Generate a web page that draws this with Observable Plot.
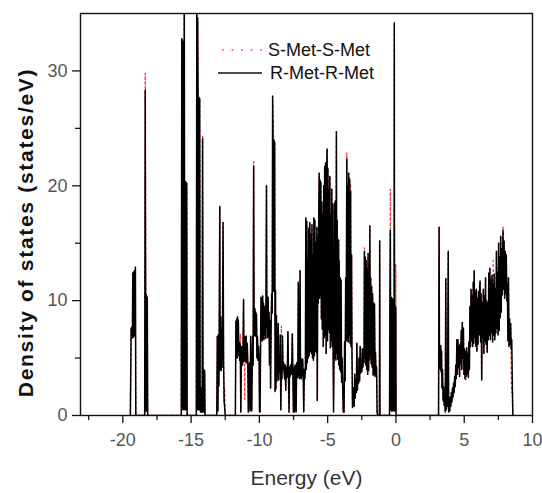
<!DOCTYPE html>
<html><head><meta charset="utf-8">
<script src="https://cdn.jsdelivr.net/npm/d3@7"></script>
<script src="https://cdn.jsdelivr.net/npm/@observablehq/plot@0.6"></script>
<style>
body{margin:0;background:#fff;}
#wrap{position:relative;width:542px;height:493px;font-family:"Liberation Sans",Arial,sans-serif;}
#legend{position:absolute;left:0;top:0;pointer-events:none;}
</style></head><body><div id="wrap"></div>
<script>
const xMajorTicks=[-20,-15,-10,-5,0,5,10];
const xMinorTicks=[-22.5,-17.5,-12.5,-7.5,-2.5,2.5,7.5];
const yMajorTicks=[0,10,20,30];
const yMinorTicks=[5,15,25];
const seriesNames=["S-Met-S-Met","R-Met-R-Met"];
const xTitle="Energy (eV)";
const yTitle="Density of states (states/eV)";

// R-Met-R-Met (black): [energy eV, DOS]
const rMet=[
[-19.45,0],[-19.39,7.6],[-19.36,6.7],[-19.33,7.7],[-19.30,6.8],[-19.27,12.4],[-19.24,6.8],[-19.21,12.5],[-19.18,6.9],[-19.15,12.6],[-19.12,7.0],[-19.08,12.9],[-19.05,0],
[-18.40,0],[-18.36,28.3],[-18.33,10.6],[-18.30,0.4],[-18.27,10.5],[-18.24,0.4],[-18.21,10.3],[-18.18,0],
[-15.72,0],[-15.68,32.8],[-15.65,0.5],[-15.62,32.6],[-15.59,0.5],[-15.56,32.4],[-15.53,0.6],[-15.50,38],[-15.47,0.5],[-15.44,20.4],[-15.41,0.5],[-15.38,20.3],[-15.35,0.5],[-15.32,20.2],[-15.29,0],
[-14.62,0],[-14.58,38],[-14.55,0.5],[-14.52,34.6],[-14.49,27.8],[-14.46,0.5],[-14.43,27.7],[-14.40,0.5],[-14.37,27.6],[-14.34,2.4],[-14.31,0.3],[-14.28,2.4],[-14.25,0.3],[-14.22,2.3],[-14.19,0.3],[-14.16,24.1],[-14.13,4.0],[-14.10,0.3],[-14.07,4.0],[-14.04,0.3],[-14.01,3.9],[-13.98,0],
[-13.12,0],[-13.08,6.9],[-13.04,0.4],[-13.00,7.0],[-12.96,2.6],[-12.90,18.2],[-12.88,7.4],[-12.86,4.0],[-12.83,8.6],[-12.80,3.9],[-12.77,7.5],[-12.74,4.2],[-12.70,8.0],[-12.66,16.8],[-12.62,4.5],[-12.58,1.2],[-12.54,0.7],[-12.50,0],
[-11.76,0],[-11.72,8.2],[-11.69,5.4],[-11.66,8.4],[-11.63,5.0],[-11.60,8.6],[-11.57,5.6],[-11.54,8.3],[-11.51,5.2],[-11.48,6.4],[-11.44,4.8],[-11.40,6.2],[-11.36,0.3],[-11.32,4.6],[-11.28,6.0],[-11.24,4.4],[-11.20,5.6],[-11.16,10.1],[-11.13,4.7],[-11.10,6.9],[-11.07,4.8],[-11.04,6.8],[-11.01,4.7],[-10.97,6.9],[-10.93,4.6],[-10.89,6.3],[-10.85,4.6],[-10.81,0.3],[-10.76,4.2],[-10.72,4.6],[-10.68,0.4],[-10.64,6.9],[-10.60,4.3],[-10.56,0.4],[-10.52,4.6],[-10.49,6.9],[-10.46,4.4],[-10.42,21.7],[-10.39,9.6],[-10.36,7.0],[-10.33,9.3],[-10.30,6.9],[-10.27,9.0],[-10.24,7.2],[-10.21,8.8],[-10.18,5.0],[-10.14,6.9],[-10.10,4.8],[-10.06,6.0],[-10.02,4.8],[-9.99,0.3],
[-9.95,0.3],[-9.91,6.5],[-9.88,10.3],[-9.85,6.7],[-9.82,10.1],[-9.79,6.5],[-9.76,10.4],[-9.73,6.8],[-9.70,9.8],[-9.67,6.6],[-9.64,9.5],[-9.61,7.0],[-9.57,9.3],[-9.53,6.7],[-9.48,20.0],[-9.45,7.6],[-9.42,9.6],[-9.39,6.8],[-9.36,10.3],[-9.33,7.4],[-9.30,9.0],[-9.26,4.4],[-9.22,8.3],[-9.18,2.4],[-9.14,7.8],[-9.10,10.6],[-9.06,8.9],[-9.03,27.8],[-9.00,24.2],[-8.97,10.8],[-8.94,24.0],[-8.91,11.1],[-8.88,23.8],[-8.85,2.1],
[-8.82,10.9],[-8.79,2.3],[-8.75,8.7],[-8.72,3.0],[-8.69,5.0],[-8.66,4.0],[-8.62,8.0],[-8.59,3.1],[-8.55,4.6],[-8.51,3.8],[-8.47,7.0],[-8.43,0.5],[-8.39,4.2],[-8.35,3.2],[-8.31,6.9],[-8.27,4.0],[-8.23,4.6],[-8.19,3.8],[-8.15,3.2],[-8.11,4.4],[-8.07,2.2],[-8.03,4.2],[-7.99,3.3],[-7.95,4.0],[-7.91,7.3],[-7.87,3.9],[-7.83,0.3],[-7.79,4.2],[-7.75,3.4],[-7.71,4.4],[-7.67,3.6],[-7.63,4.2],[-7.59,7.1],[-7.55,3.8],[-7.51,0.3],[-7.47,4.2],[-7.43,0.3],[-7.39,4.4],[-7.35,4.0],[-7.31,0.3],[-7.27,4.6],[-7.23,4.2],[-7.19,3.3],[-7.15,11.6],[-7.12,3.5],[-7.09,5.0],[-7.06,3.2],[-7.02,12.6],[-6.99,3.3],[-6.96,5.0],[-6.93,3.2],[-6.90,4.8],[-6.86,3.4],[-6.83,4.9],[-6.79,3.5],[-6.75,0.3],[-6.71,4.0],
[-6.67,3.2],[-6.63,4.2],[-6.60,17.2],[-6.56,4.0],[-6.53,16.9],[-6.49,4.6],[-6.46,13.5],[-6.42,5.0],[-6.39,16.3],[-6.35,5.2],[-6.31,16.8],[-6.27,5.6],[-6.23,15.8],[-6.19,5.4],[-6.15,16.6],[-6.11,5.0],[-6.07,14.0],[-6.04,4.8],[-6.01,17.2],[-5.97,5.2],[-5.94,17.0],[-5.90,5.6],[-5.86,15.0],[-5.83,5.5],[-5.79,16.4],[-5.76,1.3],[-5.72,15.5],[-5.69,9.8],[-5.65,18.0],[-5.62,21.1],[-5.59,10.2],[-5.56,20.5],[-5.53,10.5],[-5.50,20.3],[-5.46,8.4],[-5.43,18.6],[-5.39,7.5],[-5.36,17.5],[-5.32,6.0],[-5.29,20.0],[-5.25,6.8],[-5.22,21.7],[-5.18,7.0],[-5.15,22.0],[-5.11,5.4],[-5.08,21.0],[-5.04,23.2],[-5.01,6.5],[-4.98,21.5],[-4.94,7.5],[-4.91,19.7],[-4.87,7.2],[-4.84,20.8],[-4.80,5.9],[-4.77,17.5],[-4.73,6.5],[-4.70,19.7],[-4.66,6.0],[-4.63,18.4],[-4.60,5.2],[-4.57,0.3],
[-4.53,6.0],[-4.50,18.5],[-4.47,5.0],[-4.43,18.7],[-4.40,4.8],[-4.36,24.7],[-4.33,5.4],[-4.30,17.0],[-4.26,4.9],[-4.23,15.3],[-4.19,4.4],[-4.16,13.5],[-4.12,4.0],[-4.09,12.0],[-4.05,3.8],[-4.02,11.8],[-3.98,2.9],[-3.94,5.0],[-3.90,2.6],[-3.86,0.3],
[-3.80,0.3],[-3.76,6.4],[-3.72,3.0],[-3.68,12.0],[-3.64,6.5],[-3.60,22.3],[-3.57,6.6],[-3.53,20.0],[-3.50,6.4],[-3.46,21.1],[-3.43,7.0],[-3.39,20.6],[-3.36,6.3],[-3.32,19.5],[-3.29,6.0],[-3.25,14.0],[-3.22,5.5],[-3.18,0.7],
[-3.14,1.2],[-3.10,2.4],[-3.06,0.8],[-3.02,3.6],[-2.98,1.5],[-2.94,3.2],[-2.90,2.0],[-2.86,6.3],[-2.82,2.2],[-2.78,3.8],[-2.74,2.8],[-2.70,5.0],[-2.66,3.0],[-2.62,6.0],[-2.58,3.7],[-2.54,4.6],[-2.50,3.8],[-2.46,5.8],[-2.42,4.2],[-2.38,5.5],
[-2.34,4.6],[-2.31,14.3],[-2.28,5.0],[-2.25,13.8],[-2.21,4.4],[-2.18,13.5],[-2.14,4.0],[-2.11,12.8],[-2.07,3.6],[-2.04,14.1],[-2.00,3.9],[-1.97,11.0],[-1.94,4.8],[-1.91,16.5],[-1.88,5.2],[-1.85,12.0],[-1.81,4.5],[-1.78,11.2],[-1.74,4.2],[-1.71,10.6],[-1.67,3.5],[-1.64,9.8],[-1.60,3.6],[-1.57,9.7],[-1.53,3.4],[-1.50,5.5],[-1.46,3.8],[-1.42,4.2],[-1.38,0.3],[-1.34,0],[-1.21,0],[-1.19,15.2],[-1.17,0],
[-0.47,0],[-0.44,10.4],[-0.41,16.1],[-0.38,0.5],[-0.35,10.3],[-0.32,0.4],[-0.29,10.2],[-0.26,0.4],[-0.23,10.1],[-0.20,0.5],[-0.17,10.0],[-0.14,0.4],[-0.12,34.2],[-0.10,0.4],[-0.07,9.6],[-0.05,9.4],[-0.03,0.4],[-0.01,9.4],[0.01,0],
[3.12,0],[3.16,16.4],[3.19,4.2],[3.22,6.0],[3.25,4.0],[3.28,6.1],[3.31,3.8],[3.34,5.6],[3.37,2.4],[3.41,4.0],[3.45,1.3],[3.49,2.5],[3.53,0.9],[3.57,1.6],[3.61,0.3],[3.65,11.9],[3.69,0.5],[3.73,2.0],[3.77,0.8],[3.83,14.3],[3.86,0.3],[3.90,1.4],[3.94,0.4],[3.98,1.6],[4.02,0.8],[4.06,2.0],[4.10,1.2],[4.14,2.4],[4.18,1.6],[4.22,2.8],[4.26,2.0],[4.30,3.4],[4.34,2.5],[4.38,4.4],[4.42,3.2],[4.46,6.6],[4.50,3.6],[4.54,6.6],[4.58,4.2],[4.62,6.0],[4.66,3.4],[4.70,6.2],[4.74,4.5],[4.78,7.4],[4.82,4.0],[4.86,8.1],[4.90,5.0],[4.94,7.6],[4.98,3.6],[5.02,5.8],[5.06,3.2],[5.10,5.6],[5.14,3.4],[5.18,5.9],[5.22,3.6],[5.26,5.4],[5.30,3.3],[5.34,6.4],[5.38,4.0],[5.42,9.5],[5.46,6.0],[5.50,11.0],[5.54,6.5],[5.58,10.4],[5.62,6.0],[5.66,11.6],[5.70,6.3],[5.73,12.6],[5.77,6.8],[5.81,10.8],[5.85,6.0],[5.89,11.0],[5.93,5.6],[5.97,10.2],[6.01,6.2],[6.05,10.8],[6.09,7.0],[6.13,11.2],[6.16,11.7],[6.20,6.4],[6.24,10.6],[6.28,3.1],[6.32,9.8],[6.36,6.8],[6.40,11.0],[6.44,5.4],[6.48,10.4],[6.52,6.5],[6.56,12.0],[6.60,6.2],[6.64,10.0],[6.68,5.5],[6.72,9.8],[6.76,6.6],[6.80,12.4],[6.84,7.0],[6.88,12.8],[6.92,6.6],[6.96,11.8],[7.00,7.2],[7.04,12.2],[7.08,6.4],[7.12,11.5],[7.16,7.0],[7.20,12.3],[7.24,6.6],[7.28,11.0],[7.32,7.2],[7.36,14.3],[7.40,7.6],[7.44,12.5],[7.48,7.0],[7.52,15.0],[7.56,7.4],[7.60,13.8],[7.64,8.5],[7.67,15.6],[7.71,9.0],[7.75,14.5],[7.79,10.5],[7.84,16.1],[7.88,11.0],[7.92,15.2],[7.96,10.2],[8.00,14.3],[8.04,10.6],[8.08,14.0],[8.12,10.0],[8.16,11.5],[8.20,6.5],[8.24,12.0],[8.28,6.0],[8.32,8.4],[8.36,6.2],[8.40,8.0],[8.44,5.8],[8.48,6.6],[8.53,2.1],[8.56,0]
];

// S-Met-S-Met (red dotted): [energy eV, DOS]
const sMet=[
[-19.45,0],[-19.39,7.6],[-19.36,6.7],[-19.33,7.7],[-19.30,6.8],[-19.27,12.4],[-19.24,6.8],[-19.21,12.5],[-19.18,6.9],[-19.15,12.6],[-19.12,7.0],[-19.08,12.9],[-19.05,0],
[-18.40,0],[-18.36,29.8],[-18.33,13.3],[-18.30,0.4],[-18.27,10.5],[-18.24,0.4],[-18.21,10.3],[-18.18,0],
[-15.72,0],[-15.68,32.8],[-15.65,0.5],[-15.62,32.6],[-15.59,0.5],[-15.56,32.4],[-15.53,0.6],[-15.50,38],[-15.47,0.5],[-15.44,20.4],[-15.41,0.5],[-15.38,20.3],[-15.35,0.5],[-15.32,20.2],[-15.29,0],
[-14.62,0],[-14.58,38],[-14.55,0.5],[-14.52,34.6],[-14.49,27.8],[-14.46,0.5],[-14.43,27.7],[-14.40,0.5],[-14.37,27.6],[-14.34,2.4],[-14.31,0.3],[-14.28,2.4],[-14.25,0.3],[-14.22,2.3],[-14.19,0.3],[-14.16,24.4],[-14.13,7.4],[-14.10,1.8],[-14.07,4.0],[-14.04,0.3],[-14.01,3.9],[-13.98,0],
[-13.12,0],[-13.08,6.9],[-13.04,0.4],[-13.00,7.0],[-12.96,6.0],[-12.90,18.2],[-12.88,7.4],[-12.86,8.6],[-12.83,8.6],[-12.80,3.9],[-12.77,7.5],[-12.74,4.2],[-12.70,8.0],[-12.66,16.8],[-12.62,4.5],[-12.58,1.2],[-12.54,2.4],[-12.50,0],
[-11.76,0],[-11.72,8.2],[-11.69,5.4],[-11.66,8.4],[-11.63,5.0],[-11.60,8.6],[-11.57,5.6],[-11.54,8.3],[-11.51,5.2],[-11.48,6.4],[-11.44,4.8],[-11.40,7.1],[-11.36,0.3],[-11.32,4.6],[-11.28,6.0],[-11.24,4.4],[-11.20,5.6],[-11.16,10.1],[-11.13,4.7],[-11.10,6.9],[-11.07,1.4],[-11.04,6.8],[-11.01,4.7],[-10.97,6.9],[-10.93,4.6],[-10.89,6.3],[-10.85,4.6],[-10.81,0.3],[-10.76,4.2],[-10.72,4.6],[-10.68,0.4],[-10.64,6.9],[-10.60,4.3],[-10.56,0.4],[-10.52,4.6],[-10.49,6.9],[-10.46,4.4],[-10.42,22.1],[-10.39,11.2],[-10.36,7.0],[-10.33,9.3],[-10.30,6.9],[-10.27,9.0],[-10.24,7.2],[-10.21,8.8],[-10.18,5.0],[-10.14,6.9],[-10.10,4.8],[-10.06,6.0],[-10.02,4.8],[-9.99,0.3],
[-9.95,0.3],[-9.91,6.5],[-9.88,10.3],[-9.85,6.7],[-9.82,10.1],[-9.79,6.5],[-9.76,10.4],[-9.73,6.8],[-9.70,9.8],[-9.67,6.6],[-9.64,9.5],[-9.61,7.0],[-9.57,9.3],[-9.53,6.7],[-9.48,20.0],[-9.45,7.6],[-9.42,9.6],[-9.39,6.8],[-9.36,10.3],[-9.33,7.4],[-9.30,9.0],[-9.26,4.4],[-9.22,8.3],[-9.18,2.4],[-9.14,7.8],[-9.10,10.6],[-9.06,8.9],[-9.03,27.8],[-9.00,26.8],[-8.97,24.4],[-8.94,24.0],[-8.91,11.1],[-8.88,23.8],[-8.85,2.1],
[-8.82,10.9],[-8.79,2.3],[-8.75,8.7],[-8.72,3.0],[-8.69,5.0],[-8.66,4.0],[-8.62,8.0],[-8.59,3.1],[-8.55,4.6],[-8.51,3.8],[-8.47,7.0],[-8.43,0.5],[-8.39,7.8],[-8.35,3.2],[-8.31,6.9],[-8.27,4.0],[-8.23,4.6],[-8.19,3.8],[-8.15,3.2],[-8.11,4.4],[-8.07,2.2],[-8.03,4.2],[-7.99,3.3],[-7.95,4.0],[-7.91,7.3],[-7.87,1.8],[-7.83,0.3],[-7.79,4.2],[-7.75,3.4],[-7.71,4.4],[-7.67,3.6],[-7.63,4.2],[-7.59,7.1],[-7.55,3.8],[-7.51,0.3],[-7.47,4.2],[-7.43,0.3],[-7.39,1.4],[-7.35,4.0],[-7.31,0.3],[-7.27,4.6],[-7.23,4.2],[-7.19,3.3],[-7.15,11.6],[-7.12,3.5],[-7.09,5.0],[-7.06,3.2],[-7.02,12.6],[-6.99,3.3],[-6.96,5.0],[-6.93,3.2],[-6.90,4.8],[-6.86,3.4],[-6.83,4.9],[-6.79,3.5],[-6.75,0.3],[-6.71,4.0],
[-6.67,3.2],[-6.63,4.2],[-6.60,17.2],[-6.56,4.0],[-6.53,16.9],[-6.49,4.6],[-6.46,13.5],[-6.42,5.0],[-6.39,16.3],[-6.35,5.2],[-6.31,16.8],[-6.27,5.6],[-6.23,15.8],[-6.19,5.4],[-6.15,16.6],[-6.11,5.0],[-6.07,14.0],[-6.04,4.8],[-6.01,17.2],[-5.97,5.2],[-5.94,17.0],[-5.90,5.6],[-5.86,15.0],[-5.83,10.9],[-5.79,16.4],[-5.76,1.3],[-5.72,15.5],[-5.69,9.8],[-5.65,18.0],[-5.62,21.1],[-5.59,10.2],[-5.56,20.5],[-5.53,10.5],[-5.50,20.3],[-5.46,8.4],[-5.43,18.6],[-5.39,7.5],[-5.36,17.5],[-5.32,6.0],[-5.29,20.0],[-5.25,6.8],[-5.22,21.7],[-5.18,7.0],[-5.15,22.0],[-5.11,5.4],[-5.08,21.0],[-5.04,23.2],[-5.01,6.5],[-4.98,21.5],[-4.94,7.5],[-4.91,19.7],[-4.87,7.2],[-4.84,20.8],[-4.80,5.9],[-4.77,17.5],[-4.73,6.5],[-4.70,19.7],[-4.66,6.0],[-4.63,18.4],[-4.60,5.2],[-4.57,1.5],
[-4.53,6.0],[-4.50,18.5],[-4.47,5.0],[-4.43,18.7],[-4.40,4.8],[-4.36,24.7],[-4.33,5.4],[-4.30,17.0],[-4.26,4.9],[-4.23,15.3],[-4.19,4.4],[-4.16,15.3],[-4.12,4.0],[-4.09,12.0],[-4.05,3.8],[-4.02,11.8],[-3.98,3.9],[-3.94,5.0],[-3.90,2.6],[-3.86,0.3],
[-3.80,0.3],[-3.76,6.4],[-3.72,3.0],[-3.68,12.0],[-3.64,6.5],[-3.60,22.9],[-3.57,6.6],[-3.53,20.0],[-3.50,6.4],[-3.46,21.1],[-3.43,6.8],[-3.39,20.6],[-3.36,6.3],[-3.32,20.2],[-3.29,6.0],[-3.25,14.0],[-3.22,5.5],[-3.18,0.7],
[-3.14,1.2],[-3.10,2.4],[-3.06,0.8],[-3.02,3.6],[-2.98,1.5],[-2.94,3.2],[-2.90,2.0],[-2.86,6.3],[-2.82,2.2],[-2.78,3.8],[-2.74,2.8],[-2.70,5.0],[-2.66,3.0],[-2.62,6.0],[-2.58,3.7],[-2.54,4.6],[-2.50,3.8],[-2.46,5.8],[-2.42,4.2],[-2.38,5.8],
[-2.34,4.6],[-2.31,14.6],[-2.28,5.0],[-2.25,13.8],[-2.21,4.4],[-2.18,13.5],[-2.14,4.0],[-2.11,12.8],[-2.07,3.6],[-2.04,14.1],[-2.00,3.9],[-1.97,11.0],[-1.94,4.8],[-1.91,16.5],[-1.88,5.2],[-1.85,12.0],[-1.81,4.5],[-1.78,11.2],[-1.74,4.2],[-1.71,10.6],[-1.67,3.5],[-1.64,9.8],[-1.60,3.6],[-1.57,9.7],[-1.53,3.4],[-1.50,5.5],[-1.46,3.8],[-1.42,4.2],[-1.38,0.3],[-1.34,0],[-1.21,0],[-1.19,15.2],[-1.17,0],
[-0.47,0],[-0.44,10.4],[-0.41,19.7],[-0.38,0.5],[-0.35,10.3],[-0.32,0.4],[-0.29,10.2],[-0.26,0.4],[-0.23,10.1],[-0.20,0.5],[-0.17,10.0],[-0.14,0.4],[-0.12,34.2],[-0.10,0.4],[-0.07,9.6],[-0.05,9.4],[-0.03,0.4],[-0.01,13.2],[0.01,0],
[3.12,0],[3.16,16.4],[3.19,4.2],[3.22,6.0],[3.25,4.0],[3.28,6.1],[3.31,3.8],[3.34,5.6],[3.37,2.4],[3.41,4.0],[3.45,1.3],[3.49,2.5],[3.53,0.9],[3.57,1.6],[3.61,0.3],[3.65,11.9],[3.69,0.5],[3.73,2.0],[3.77,0.8],[3.83,14.3],[3.86,0.3],[3.90,1.4],[3.94,0.4],[3.98,1.6],[4.02,0.8],[4.06,2.0],[4.10,1.2],[4.14,2.4],[4.18,1.6],[4.22,2.8],[4.26,2.0],[4.30,3.4],[4.34,2.5],[4.38,4.4],[4.42,3.2],[4.46,6.6],[4.50,3.6],[4.54,6.6],[4.58,4.2],[4.62,6.0],[4.66,3.4],[4.70,6.2],[4.74,4.5],[4.78,7.4],[4.82,4.0],[4.86,8.1],[4.90,5.0],[4.94,7.6],[4.98,3.6],[5.02,5.8],[5.06,3.2],[5.10,3.0],[5.14,3.4],[5.18,5.9],[5.22,3.6],[5.26,5.4],[5.30,3.3],[5.34,6.4],[5.38,4.0],[5.42,9.5],[5.46,6.0],[5.50,11.0],[5.54,6.5],[5.58,10.4],[5.62,6.0],[5.66,11.6],[5.70,6.3],[5.73,12.6],[5.77,6.8],[5.81,10.8],[5.85,6.0],[5.89,11.0],[5.93,5.6],[5.97,10.2],[6.01,6.2],[6.05,10.8],[6.09,7.0],[6.13,11.2],[6.16,11.7],[6.20,6.4],[6.24,10.6],[6.28,3.1],[6.32,9.8],[6.36,6.8],[6.40,11.0],[6.44,5.4],[6.48,10.4],[6.52,6.5],[6.56,12.0],[6.60,6.2],[6.64,10.0],[6.68,5.5],[6.72,9.8],[6.76,6.6],[6.80,12.4],[6.84,7.0],[6.88,12.8],[6.92,6.6],[6.96,11.8],[7.00,7.2],[7.04,12.2],[7.08,6.4],[7.12,13.5],[7.16,7.0],[7.20,12.3],[7.24,6.6],[7.28,11.0],[7.32,7.2],[7.36,14.3],[7.40,7.6],[7.44,12.5],[7.48,7.0],[7.52,15.0],[7.56,7.4],[7.60,13.8],[7.64,8.5],[7.67,15.6],[7.71,9.0],[7.75,14.5],[7.79,10.5],[7.84,16.5],[7.88,11.0],[7.92,15.2],[7.96,10.2],[8.00,14.3],[8.04,10.6],[8.08,14.0],[8.12,10.0],[8.16,11.5],[8.20,6.5],[8.24,12.0],[8.28,6.0],[8.32,8.4],[8.36,6.2],[8.40,8.0],[8.44,3.7],[8.48,2.0],[8.53,2.1],[8.56,0]
];

const font='"Liberation Sans",Arial,sans-serif';
const hyphen=d=>String(d);
const chart=Plot.plot({
  width:542,height:493,
  marginLeft:80,marginRight:10,marginTop:13,marginBottom:78,
  style:{fontFamily:font,background:"#fff",overflow:"visible"},
  x:{domain:[-23.1,10]},
  y:{domain:[0,35]},
  marks:[
    Plot.line(sMet,{x:d=>d[0],y:d=>d[1],stroke:"#ff2a2a",strokeWidth:1.3,strokeDasharray:"1.4,3.6",clip:true}),
    Plot.line(rMet,{x:d=>d[0],y:d=>d[1],stroke:"#000",strokeWidth:1.5,clip:true}),
    Plot.frame({stroke:"#111",strokeWidth:1.4}),
    Plot.axisX({ticks:xMajorTicks,tickSize:8,tickFormat:()=>"",label:null,stroke:"#111",strokeWidth:1.3}),
    Plot.axisX({ticks:xMinorTicks,tickSize:5,tickFormat:()=>"",label:null,stroke:"#111",strokeWidth:1.3}),
    Plot.axisX({ticks:xMajorTicks,tickSize:0,tickPadding:18,fontSize:18,fill:"#555",tickFormat:hyphen,label:null}),
    Plot.axisY({ticks:yMajorTicks,tickSize:8,tickFormat:()=>"",label:null,stroke:"#111",strokeWidth:1.3}),
    Plot.axisY({ticks:yMinorTicks,tickSize:5,tickFormat:()=>"",label:null,stroke:"#111",strokeWidth:1.3}),
    Plot.axisY({ticks:yMajorTicks,tickSize:0,tickPadding:13,fontSize:18,fill:"#555",tickFormat:hyphen,label:null}),
    Plot.text([xTitle],{frameAnchor:"bottom",text:d=>d,dy:63,lineAnchor:"middle",textAnchor:"middle",fontSize:21,fill:"#333"}),
    Plot.text([yTitle],{frameAnchor:"left",text:d=>d,rotate:-90,dx:-54,dy:18,textAnchor:"middle",lineAnchor:"middle",fontSize:21,fontWeight:"bold",fill:"#111"})
  ]
});
// widen the y title's letter spacing like the reference
chart.querySelectorAll("text").forEach(t=>{ if(t.textContent===yTitle) t.setAttribute("letter-spacing","1.7"); });
const wrap=document.getElementById("wrap");
wrap.appendChild(chart);

// legend overlay
const ns="http://www.w3.org/2000/svg";
const lg=document.createElementNS(ns,"svg");
lg.setAttribute("id","legend");lg.setAttribute("width","542");lg.setAttribute("height","493");
const items=[
  {name:seriesNames[0],stroke:"#ff3030",dash:"1.6,8",x1:222,x2:263,y:50,tx:268},
  {name:seriesNames[1],stroke:"#111",dash:null,x1:218,x2:262,y:73,tx:270}
];
for(const it of items){
  const l=document.createElementNS(ns,"line");
  l.setAttribute("x1",it.x1);l.setAttribute("x2",it.x2);l.setAttribute("y1",it.y);l.setAttribute("y2",it.y);
  l.setAttribute("stroke",it.stroke);l.setAttribute("stroke-width","1.6");
  if(it.dash) l.setAttribute("stroke-dasharray",it.dash);
  lg.appendChild(l);
  const t=document.createElementNS(ns,"text");
  t.setAttribute("x",it.tx);t.setAttribute("y",it.y);t.setAttribute("dominant-baseline","central");
  t.setAttribute("font-family",font);t.setAttribute("font-size","18");t.setAttribute("fill","#111");
  t.textContent=it.name;
  lg.appendChild(t);
}
wrap.appendChild(lg);
</script></body></html>
